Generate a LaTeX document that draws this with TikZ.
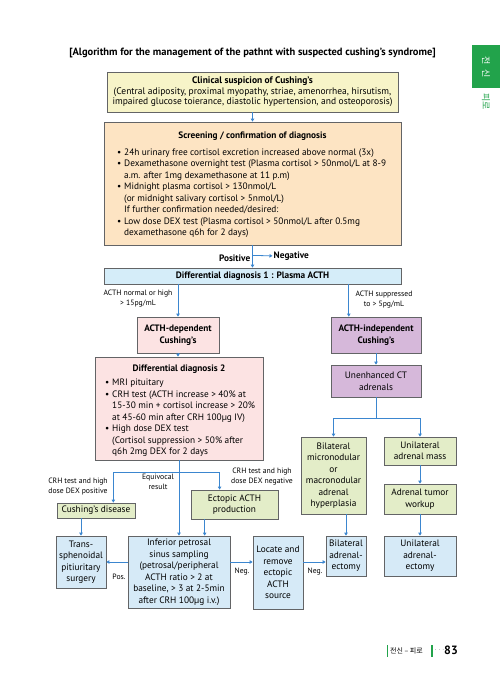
\documentclass[tikz,border=0pt]{standalone}
\usepackage{fontspec}
\setmainfont{PT Sans}
\newfontfamily\krfont{Noto Sans CJK KR}
\usetikzlibrary{arrows.meta,calc}
\definecolor{boxline}{HTML}{636466}
\definecolor{arrowblue}{HTML}{3B86CF}
\definecolor{clinfill}{HTML}{F7F4C8}
\definecolor{scrfill}{HTML}{FDE4C3}
\definecolor{ddfill}{HTML}{D5EDF9}
\definecolor{pinkfill}{HTML}{FCE3E3}
\definecolor{purplefill}{HTML}{D6B8DA}
\definecolor{greenfill}{HTML}{E3EDC8}
\definecolor{bluefill}{HTML}{D6EAF7}
\definecolor{tabgreen}{HTML}{22A34B}
\newcommand{\titlefont}{\fontsize{10.5}{12}\selectfont\bfseries}
\newcommand{\boxfont}{\fontsize{9.3}{11.5}\selectfont}
\newcommand{\clinfont}{\fontsize{9.5}{10.4}\selectfont}
\newcommand{\notefont}{\fontsize{7.7}{10}\selectfont}
\newcommand{\tabfont}{\krfont\fontsize{9}{10}\selectfont}
\newcommand{\footkr}{\krfont\fontsize{7}{8}\selectfont}
\newcommand{\pagefont}{\fontsize{12}{14}\selectfont\bfseries}
\newcommand{\bul}{\makebox[7pt][l]{\textbullet}}
\newcommand{\ind}{\hspace*{7pt}}
% name, x, y, width, height, fill, text
\newcommand{\flowbox}[7][]{
  \node[box,#1,fill=#6,minimum width=#4pt,minimum height=#5pt] (#2) at (#3) {#7};
}

\begin{document}
\begin{tikzpicture}[x=1pt,y=-1pt,
    box/.style={draw=boxline,line width=0.7pt,inner sep=0pt,align=center,font=\boxfont},
    list/.style={inner sep=0pt,align=left,font=\boxfont},
    note/.style={inner sep=0pt,align=center,font=\notefont},
    arr/.style={draw=arrowblue,line width=0.8pt,-{Triangle[length=3pt,width=3.4pt]}},
    line/.style={draw=arrowblue,line width=0.8pt}]
  \useasboundingbox (0,0) rectangle (500,684);

  \node[font=\titlefont] (title) at (252.5,53)
    {[Algorithm for the management of the pathnt with suspected cushing’s syndrome]};

  % side tab
  \fill[tabgreen] (472,45) rectangle (500,88);
  \node[rotate=-90,text=white,font=\tabfont] (tab) at (486,67) {전\hspace{5pt}신};
  \node[rotate=-90,text=tabgreen,font=\tabfont] (tabsub) at (486,102) {피로};

  % screening
  \flowbox[font=\clinfont]{clin}{252.5,92}{291}{40}{clinfill}{\textbf{Clinical suspicion of Cushing’s}\\
    (Central adiposity, proximal myopathy, striae, amenorrhea, hirsutism,\\
    impaired glucose toierance, diastolic hypertension, and osteoporosis)}
  \flowbox{scr}{252.5,183.5}{297}{123}{scrfill}{}
  \node[font=\boxfont\bfseries] (scrtitle) at (252.5,136) {Screening / confirmation of diagnosis};
  \node[list,anchor=west] (scrlist) at (117,193) {%
    \bul 24h urinary free cortisol excretion increased above normal (3x)\\
    \bul Dexamethasone overnight test (Plasma cortisol > 50nmol/L at 8-9\\
    \ind a.m. after 1mg dexamethasone at 11 p.m)\\
    \bul Midnight plasma cortisol > 130nmol/L\\
    \ind (or midnight salivary cortisol > 5nmol/L)\\
    \ind If further confirmation needed/desired:\\
    \bul Low dose DEX test (Plasma cortisol > 50nmol/L after 0.5mg\\
    \ind dexamethasone q6h for 2 days)};

  \flowbox[font=\boxfont\bfseries]{dd1}{252.5,276}{297}{16}{ddfill}{Differential diagnosis 1 : Plasma ACTH}
  \coordinate (negsplit) at ($(scr.south)!0.45!(dd1.north)$);
  \node[font=\boxfont\bfseries,anchor=west,inner sep=1pt] (neg) at ($(negsplit)+(20,0.5)$) {Negative};
  \node[font=\boxfont\bfseries,anchor=east,inner sep=1pt] (pos) at ($(negsplit)+(-1,3)$) {Positive};

  % ACTH dependent branch
  \flowbox[font=\boxfont\bfseries]{dep}{178,335}{82}{36}{pinkfill}{ACTH-dependent\\Cushing’s}
  \flowbox[font=\boxfont\bfseries]{indep}{376,335}{90}{36}{purplefill}{ACTH-independent\\Cushing’s}
  \node[note] (acthhigh) at (138,299) {ACTH normal or high\\> 15pg/mL};
  \node[note] (acthlow) at (384,300) {ACTH suppressed\\to > 5pg/mL};

  \flowbox{dd2}{179,408.5}{168}{103}{pinkfill}{}
  \node[font=\boxfont\bfseries] (dd2title) at (179,369) {Differential diagnosis 2};
  \node[list,anchor=west] (dd2list) at (105,418) {%
    \bul MRI pituitary\\
    \bul CRH test (ACTH increase > 40\% at\\
    \ind 15-30 min + cortisol increase > 20\%\\
    \ind at 45-60 min after CRH 100µg IV)\\
    \bul High dose DEX test\\
    \ind (Cortisol suppression > 50\% after\\
    \ind q6h 2mg DEX for 2 days};

  \flowbox{cd}{96,510.5}{78}{15}{greenfill}{Cushing’s disease}
  \flowbox{ect}{234.5,504.5}{87}{29}{greenfill}{Ectopic ACTH\\production}
  \node[note] (crhpos) at (78,487) {CRH test and high\\dose DEX positive};
  \node[note] (equiv) at (158,482) {Equivocal\\result};
  \node[note] (crhneg) at (262,477) {CRH test and high\\dose DEX negative};

  \flowbox{trans}{81,562}{50}{52}{bluefill}{Trans-\\sphenoidal\\pitiuritary\\surgery}
  \flowbox{ipss}{179,572}{102}{72}{bluefill}{Inferior petrosal\\sinus sampling\\(petrosal/peripheral\\
    ACTH ratio > 2 at\\baseline, > 3 at 2-5min\\after CRH 100µg i.v.)}
  \flowbox{loc}{278,572.5}{50}{73}{bluefill}{Locate and\\remove\\ectopic\\ACTH\\source}
  \node[note] (poslbl) at (119,577) {Pos.};
  \node[note] (neglbl) at (242,572) {Neg.};
  \node[note] (neglbl2) at (315,572) {Neg.};

  % ACTH independent branch
  \flowbox{ct}{376,381}{90}{32}{purplefill}{Unenhanced CT\\adrenals}
  \flowbox{hyper}{333.5,475.5}{65}{77}{greenfill}{Bilateral\\micronodular\\or\\macronodular\\adrenal\\hyperplasia}
  \flowbox{mass}{420,451}{72}{28}{greenfill}{Unilateral\\adrenal mass}
  \flowbox{workup}{420,499}{72}{30}{greenfill}{Adrenal tumor\\workup}
  \flowbox{adx}{346,556}{40}{40}{bluefill}{Bilateral\\adrenal-\\ectomy}
  \flowbox{uadx}{420,556}{72}{40}{bluefill}{Unilateral\\adrenal-\\ectomy}

  % connectors
  \draw[arr] (clin.south) -- (scr.north);
  \draw[arr] (scr.south) -- (dd1.north);
  \draw[arr] (negsplit) -- (neg.west);
  \draw[arr] (dd1.south -| dep.north) -- (dep.north);
  \coordinate (indepin) at ($(indep.north west)!0.2!(indep.north east)$);
  \draw[arr] (dd1.south -| indepin) -- (indepin);
  \draw[arr] (dep.south) -- (dep.south |- dd2.north);
  \draw[line] (dd2.south) -- ++(0,12) coordinate (dd2split);
  \coordinate (cdin) at ($(cd.north west)!0.72!(cd.north east)$);
  \coordinate (ectin) at ($(ect.north west)!0.33!(ect.north east)$);
  \draw[arr] (dd2split) -| (cdin);
  \draw[arr] (dd2split) -| (ectin);
  \draw[arr] (dd2split) -- (ipss.north);
  \coordinate (ipssin) at ($(ipss.north west)!0.75!(ipss.north east)$);
  \draw[arr] (ect.south -| ipssin) -- (ipssin);
  \draw[arr] (cd.south -| trans.north) -- (trans.north);
  \draw[arr] (ipss.west |- trans.east) -- (trans.east);
  \draw[arr] (ipss.east |- trans.east) -- (loc.west |- trans.east);
  \draw[arr] (loc.east |- trans.east) -- (adx.west |- trans.east);
  \draw[arr] (indep.south) -- (ct.north);
  \draw[line] (ct.south) -- ++(0,21) coordinate (ctsplit);
  \draw[arr] (ctsplit) -| (hyper.north);
  \draw[arr] (ctsplit) -| (mass.north);
  \draw[arr] (mass.south) -- (workup.north);
  \draw[arr] (hyper.south -| adx.north) -- (adx.north);
  \draw[arr] (workup.south) -- (uadx.north);

  % footer
  \fill[tabgreen] (386.5,645) rectangle (388,657);
  \node[font=\footkr,anchor=west,inner sep=1pt] (foot) at (389,651) {전신 – 피로};
  \fill[tabgreen] (431,645) rectangle (432.5,657);
  \node[font=\footkr,text=gray] (dots) at (439.5,651) {···};
  \node[font=\pagefont] (page) at (451,650) {83};
\end{tikzpicture}
\end{document}
